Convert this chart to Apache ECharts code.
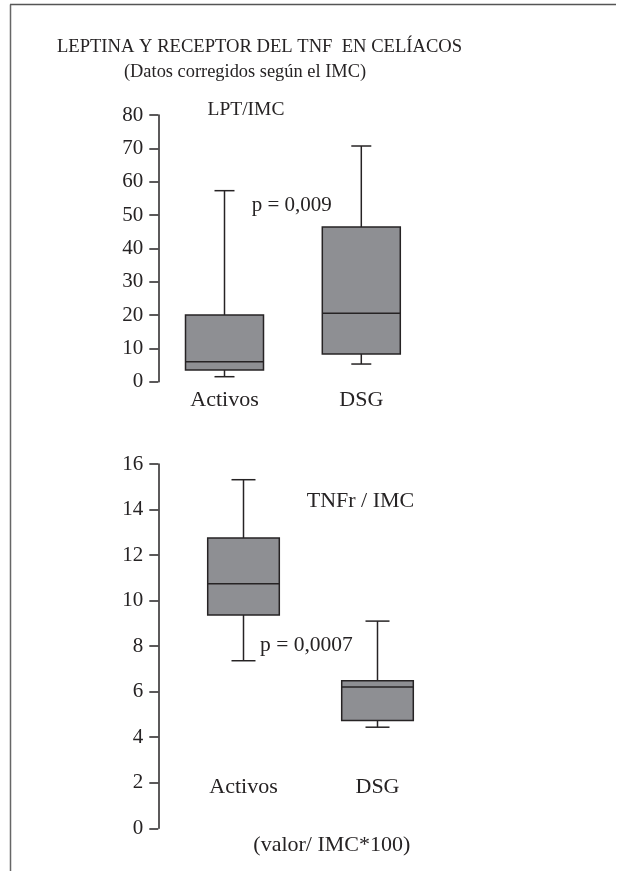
<!DOCTYPE html>
<html>
<head>
<meta charset="utf-8">
<script src="https://cdn.jsdelivr.net/npm/echarts@6/dist/echarts.min.js"></script>
<style>
html,body{margin:0;padding:0;background:#fff;}
#c{width:617px;height:871px;}
</style>
</head>
<body>
<div id="c"></div>
<script>
// ---- data ----
const categories = ['Activos', 'DSG'];
// [min, Q1, median, Q3, max]
const lptActivos = [1.5, 3.5, 6.0, 20.0, 57.3];
const lptDSG = [5.3, 8.3, 20.5, 46.4, 70.7];
const tnfActivos = [7.36, 9.37, 10.74, 12.75, 15.31];
const tnfDSG = [4.44, 4.73, 6.21, 6.48, 9.10];
const lptAxis = { min: 0, max: 80, interval: 10 };
const tnfAxis = { min: 0, max: 16, interval: 2 };

const FONT = '"Liberation Serif", "DejaVu Serif", serif';
const INK = '#262324';
const BOXFILL = '#8e8f93';

function makeRender(boxW, capW) {
  return function (params, api) {
    const x = api.value(0);
    const pMin = api.coord([x, api.value(1)]);
    const pQ1 = api.coord([x, api.value(2)]);
    const pMed = api.coord([x, api.value(3)]);
    const pQ3 = api.coord([x, api.value(4)]);
    const pMax = api.coord([x, api.value(5)]);
    const cx = pMed[0];
    const ls = { stroke: INK, lineWidth: 1.5 };
    return {
      type: 'group',
      children: [
        { type: 'line', shape: { x1: cx, y1: pQ3[1], x2: cx, y2: pMax[1] }, style: ls },
        { type: 'line', shape: { x1: cx, y1: pQ1[1], x2: cx, y2: pMin[1] }, style: ls },
        { type: 'line', shape: { x1: cx - capW / 2, y1: pMax[1], x2: cx + capW / 2, y2: pMax[1] }, style: ls },
        { type: 'line', shape: { x1: cx - capW / 2, y1: pMin[1], x2: cx + capW / 2, y2: pMin[1] }, style: ls },
        { type: 'rect', shape: { x: cx - boxW / 2, y: pQ3[1], width: boxW, height: pQ1[1] - pQ3[1] },
          style: { fill: BOXFILL, stroke: INK, lineWidth: 1.5 } },
        { type: 'line', shape: { x1: cx - boxW / 2, y1: pMed[1], x2: cx + boxW / 2, y2: pMed[1] }, style: ls }
      ]
    };
  };
}

function toRows(a, b) {
  return [[0].concat(a), [1].concat(b)];
}

const chart = echarts.init(document.getElementById('c'), null, { renderer: 'canvas' });

const yAxisCommon = {
  type: 'value',
  axisLine: { show: true, lineStyle: { color: INK, width: 1.5 } },
  axisTick: { show: true, inside: false, length: 9, lineStyle: { color: INK, width: 1.5 } },
  axisLabel: { color: INK, fontFamily: FONT, fontSize: 21, margin: 15 },
  splitLine: { show: false }
};

const option = {
  backgroundColor: '#ffffff',
  animation: false,
  grid: [
    { left: 156.1, top: 115, width: 273.6, height: 266.7 },
    { left: 176.5, top: 464, width: 268, height: 364.3 }
  ],
  xAxis: [
    { type: 'category', gridIndex: 0, data: categories, boundaryGap: true,
      axisLine: { show: false }, axisTick: { show: false },
      axisLabel: { color: INK, fontFamily: FONT, fontSize: 22, margin: 8 } },
    { type: 'category', gridIndex: 1, data: categories, boundaryGap: true,
      axisLine: { show: false }, axisTick: { show: false },
      axisLabel: { color: INK, fontFamily: FONT, fontSize: 22, margin: -52 } }
  ],
  yAxis: [
    Object.assign({}, yAxisCommon, { gridIndex: 0, min: lptAxis.min, max: lptAxis.max, interval: lptAxis.interval, offset: -2.2 }),
    Object.assign({}, yAxisCommon, { gridIndex: 1, min: tnfAxis.min, max: tnfAxis.max, interval: tnfAxis.interval, offset: 18.2 })
  ],
  series: [
    { type: 'custom', xAxisIndex: 0, yAxisIndex: 0, clip: false,
      renderItem: makeRender(78, 20), data: toRows(lptActivos, lptDSG),
      encode: { x: 0, y: [1, 2, 3, 4, 5] } },
    { type: 'custom', xAxisIndex: 1, yAxisIndex: 1, clip: false,
      renderItem: makeRender(71.6, 24), data: toRows(tnfActivos, tnfDSG),
      encode: { x: 0, y: [1, 2, 3, 4, 5] } }
  ],
  graphic: [
    { type: 'line', shape: { x1: 10, y1: 4.5, x2: 616, y2: 4.5 }, style: { stroke: '#555', lineWidth: 1.5 } },
    { type: 'line', shape: { x1: 10.5, y1: 4.5, x2: 10.5, y2: 871 }, style: { stroke: '#666', lineWidth: 1.5 } },
    { type: 'text', x: 259.5, y: 46.7, style: { text: 'LEPTINA Y RECEPTOR DEL TNF  EN CELÍACOS', fill: INK, font: '18.6px ' + FONT, textAlign: 'center', textVerticalAlign: 'middle' } },
    { type: 'text', x: 245, y: 71.7, style: { text: '(Datos corregidos según el IMC)', fill: INK, font: '18.4px ' + FONT, textAlign: 'center', textVerticalAlign: 'middle' } },
    { type: 'text', x: 246, y: 110, style: { text: 'LPT/IMC', fill: INK, font: '19.5px ' + FONT, textAlign: 'center', textVerticalAlign: 'middle' } },
    { type: 'text', x: 251.7, y: 205, style: { text: 'p = 0,009', fill: INK, font: '21px ' + FONT, textAlign: 'left', textVerticalAlign: 'middle' } },
    { type: 'text', x: 306.7, y: 501.7, style: { text: 'TNFr / IMC', fill: INK, font: '22px ' + FONT, textAlign: 'left', textVerticalAlign: 'middle' } },
    { type: 'text', x: 260, y: 645, style: { text: 'p = 0,0007', fill: INK, font: '21.5px ' + FONT, textAlign: 'left', textVerticalAlign: 'middle' } },
    { type: 'text', x: 253.3, y: 845, style: { text: '(valor/ IMC*100)', fill: INK, font: '22px ' + FONT, textAlign: 'left', textVerticalAlign: 'middle' } }
  ]
};
chart.setOption(option);
</script>
</body>
</html>
